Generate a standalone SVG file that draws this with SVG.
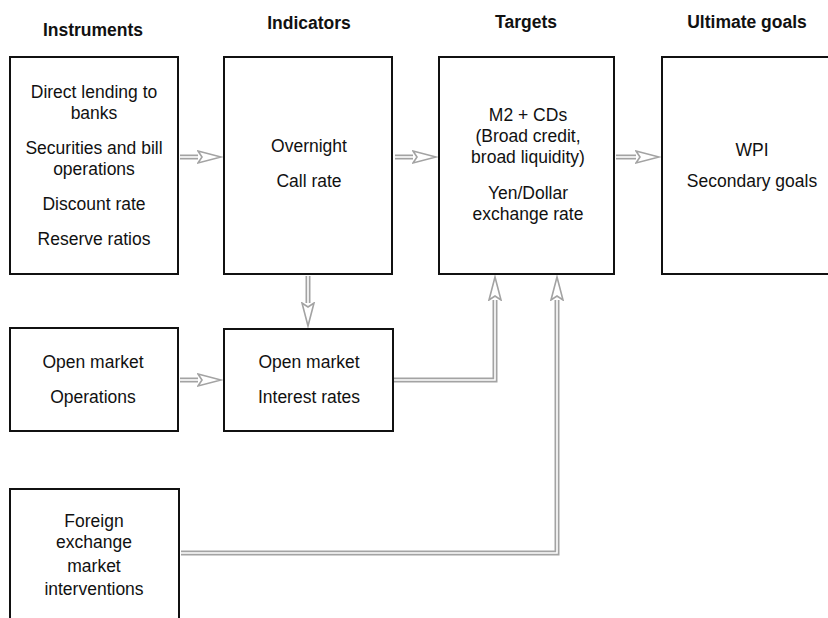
<svg xmlns="http://www.w3.org/2000/svg" width="828" height="618" viewBox="0 0 828 618">
  <style>
    .box { fill: #ffffff; stroke: #111111; stroke-width: 2; }
    .head { font-family: "Liberation Sans", Arial, sans-serif; font-size: 17.5px; font-weight: bold; fill: #111111; text-anchor: middle; }
    .txt { font-family: "Liberation Sans", Arial, sans-serif; font-size: 17.5px; fill: #111111; text-anchor: middle; }
    .shaft { fill: none; stroke: #a3a3a3; stroke-width: 5; }
    .core { fill: none; stroke: #ffffff; stroke-width: 1.6; }
  </style>
  <defs>
    <marker id="arrowhead" markerUnits="userSpaceOnUse" markerWidth="26" markerHeight="16" viewBox="0 0 26 16" refX="1" refY="8" orient="auto">
      <path d="M1,2 L24,8 L1,14 L5,8 Z" fill="#ffffff" stroke="#a3a3a3" stroke-width="1.6" stroke-linejoin="miter"/>
    </marker>
  </defs>

  <rect width="828" height="618" fill="#ffffff"/>

  <!-- column headings -->
  <g id="headings">
    <text class="head" x="93" y="36">Instruments</text>
    <text class="head" x="309" y="29">Indicators</text>
    <text class="head" x="526" y="28">Targets</text>
    <text class="head" x="747" y="28">Ultimate goals</text>
  </g>

  <!-- connectors -->
  <g id="connectors">
    <path class="shaft" d="M180,157 H198" marker-end="url(#arrowhead)"/>
    <path class="core" d="M180,157 H199"/>
    <path class="shaft" d="M395,157 H413" marker-end="url(#arrowhead)"/>
    <path class="core" d="M395,157 H414"/>
    <path class="shaft" d="M616,157 H636" marker-end="url(#arrowhead)"/>
    <path class="core" d="M616,157 H637"/>
    <path class="shaft" d="M308,276 V303" marker-end="url(#arrowhead)"/>
    <path class="core" d="M308,276 V304"/>
    <path class="shaft" d="M180,380 H198" marker-end="url(#arrowhead)"/>
    <path class="core" d="M180,380 H199"/>
    <path class="shaft" d="M394,380 H495 V300" marker-end="url(#arrowhead)"/>
    <path class="core" d="M394,380 H495 V299"/>
    <path class="shaft" d="M181,553 H557 V300" marker-end="url(#arrowhead)"/>
    <path class="core" d="M181,553 H557 V299"/>
  </g>

  <g id="instruments">
    <rect class="box" x="10" y="57" width="168" height="217"/>
    <text class="txt" x="94" y="98">Direct lending to</text>
    <text class="txt" x="94" y="119">banks</text>
    <text class="txt" x="94" y="154">Securities and bill</text>
    <text class="txt" x="94" y="175">operations</text>
    <text class="txt" x="94" y="210">Discount rate</text>
    <text class="txt" x="94" y="245">Reserve ratios</text>
  </g>

  <g id="indicators">
    <rect class="box" x="224" y="57" width="168" height="217"/>
    <text class="txt" x="309" y="152">Overnight</text>
    <text class="txt" x="309" y="187">Call rate</text>
  </g>

  <g id="targets">
    <rect class="box" x="439" y="57" width="175" height="217"/>
    <text class="txt" x="528" y="121">M2 + CDs</text>
    <text class="txt" x="528" y="142">(Broad credit,</text>
    <text class="txt" x="528" y="163">broad liquidity)</text>
    <text class="txt" x="528" y="199">Yen/Dollar</text>
    <text class="txt" x="528" y="220">exchange rate</text>
  </g>

  <g id="ultimate-goals">
    <rect class="box" x="662" y="57" width="180" height="217"/>
    <text class="txt" x="752" y="156">WPI</text>
    <text class="txt" x="752" y="187">Secondary goals</text>
  </g>

  <g id="open-market-operations">
    <rect class="box" x="10" y="328" width="168" height="103"/>
    <text class="txt" x="93" y="368">Open market</text>
    <text class="txt" x="93" y="403">Operations</text>
  </g>

  <g id="open-market-rates">
    <rect class="box" x="224" y="329" width="169" height="102"/>
    <text class="txt" x="309" y="368">Open market</text>
    <text class="txt" x="309" y="403">Interest rates</text>
  </g>

  <g id="fx-interventions">
    <rect class="box" x="10" y="489" width="169" height="140"/>
    <text class="txt" x="94" y="527">Foreign</text>
    <text class="txt" x="94" y="548">exchange</text>
    <text class="txt" x="94" y="572">market</text>
    <text class="txt" x="94" y="595">interventions</text>
  </g>
</svg>
